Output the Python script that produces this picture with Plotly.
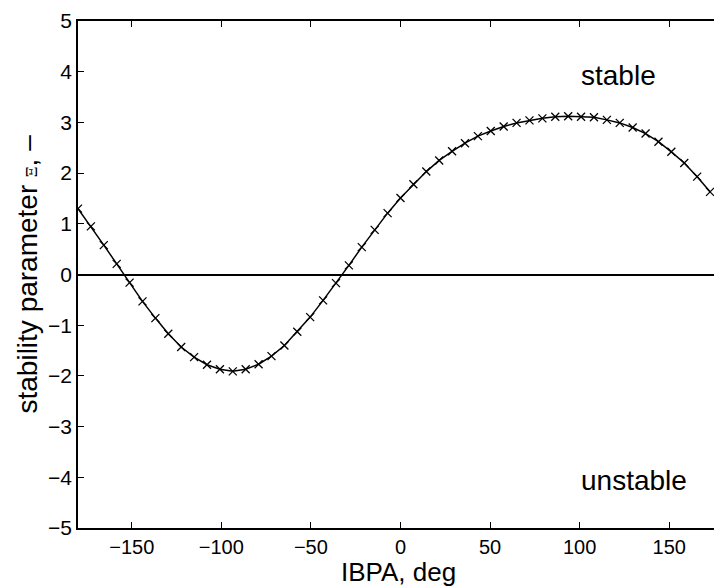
import plotly.graph_objects as go

ibpa_deg = [-180.0, -172.8, -165.6, -158.4, -151.2, -144.0, -136.8, -129.6, -122.4, -115.2,
            -108.0, -100.8, -93.6, -86.4, -79.2, -72.0, -64.8, -57.6, -50.4, -43.2,
            -36.0, -28.8, -21.6, -14.4, -7.2, 0.0, 7.2, 14.4, 21.6, 28.8,
            36.0, 43.2, 50.4, 57.6, 64.8, 72.0, 79.2, 86.4, 93.6, 100.8,
            108.0, 115.2, 122.4, 129.6, 136.8, 144.0, 151.2, 158.4, 165.6, 172.8]
stability = [1.30, 0.95, 0.58, 0.21, -0.16, -0.53, -0.86, -1.17, -1.43, -1.63,
             -1.78, -1.87, -1.91, -1.87, -1.77, -1.61, -1.40, -1.13, -0.84, -0.51,
             -0.17, 0.18, 0.54, 0.88, 1.21, 1.51, 1.78, 2.03, 2.25, 2.43,
             2.59, 2.73, 2.83, 2.92, 2.99, 3.04, 3.08, 3.11, 3.12, 3.11,
             3.10, 3.05, 2.99, 2.90, 2.78, 2.62, 2.42, 2.20, 1.93, 1.63]
x_ticks = [-150, -100, -50, 0, 50, 100, 150]
x_tick_text = ["\u2212150", "\u2212100", "\u221250", "0", "50", "100", "150"]
y_ticks = [-5, -4, -3, -2, -1, 0, 1, 2, 3, 4, 5]
y_tick_text = ["\u22125", "\u22124", "\u22123", "\u22122", "\u22121", "0", "1", "2", "3", "4", "5"]
region_labels = ["stable", "unstable"]
region_x = [121.7, 130.6]
region_y = [3.93, -4.06]

font = "Liberation Sans, Arial, sans-serif"

fig = go.Figure()
fig.add_trace(go.Scatter(
    x=ibpa_deg, y=stability, mode="lines+markers",
    line=dict(color="black", width=1.5),
    marker=dict(symbol="x-thin", size=8, line=dict(color="black", width=1.3), color="black"),
    showlegend=False,
))

for t, xv, yv in zip(region_labels, region_x, region_y):
    fig.add_annotation(x=xv, y=yv, text=t, showarrow=False,
                       font=dict(family=font, size=28, color="black"))

# axis titles as annotations for exact placement
fig.add_annotation(xref="paper", yref="paper", x=(398 - 78) / 636, y=(528 - 572) / 507,
                   text="IBPA, deg", showarrow=False, xanchor="center", yanchor="middle",
                   borderpad=0,
                   font=dict(family=font, size=26, color="black"))
fig.add_annotation(xref="paper", yref="paper", x=(27 - 78) / 636, y=0.5,
                   text="stability parameter <span style=\"font-family:'DejaVu Serif';font-size:15px\">\u039e</span>, \u2013",
                   textangle=-90, showarrow=False, xanchor="center", yanchor="middle",
                   font=dict(family=font, size=28, color="black"))

fig.update_layout(
    width=714, height=587,
    margin=dict(l=78, r=0, t=21, b=59),
    paper_bgcolor="white", plot_bgcolor="white",
    font=dict(family=font, size=21, color="black"),
    xaxis=dict(
        range=[-180, 175], tickvals=x_ticks, ticktext=x_tick_text,
        ticks="inside", ticklen=6, tickcolor="black", tickwidth=1,
        showline=True, linecolor="black", linewidth=1.5, mirror="ticks",
        showgrid=False, zeroline=False, automargin=False,
        tickfont=dict(size=20),
    ),
    yaxis=dict(
        range=[-5, 5], tickvals=y_ticks, ticktext=y_tick_text,
        ticks="inside", ticklen=6, tickcolor="black", tickwidth=1,
        showline=True, linecolor="black", linewidth=1.5, mirror=False,
        showgrid=False, zeroline=True, zerolinecolor="black", zerolinewidth=1.5,
        automargin=False, tickfont=dict(size=21),
    ),
)

fig.write_html("out.html")
